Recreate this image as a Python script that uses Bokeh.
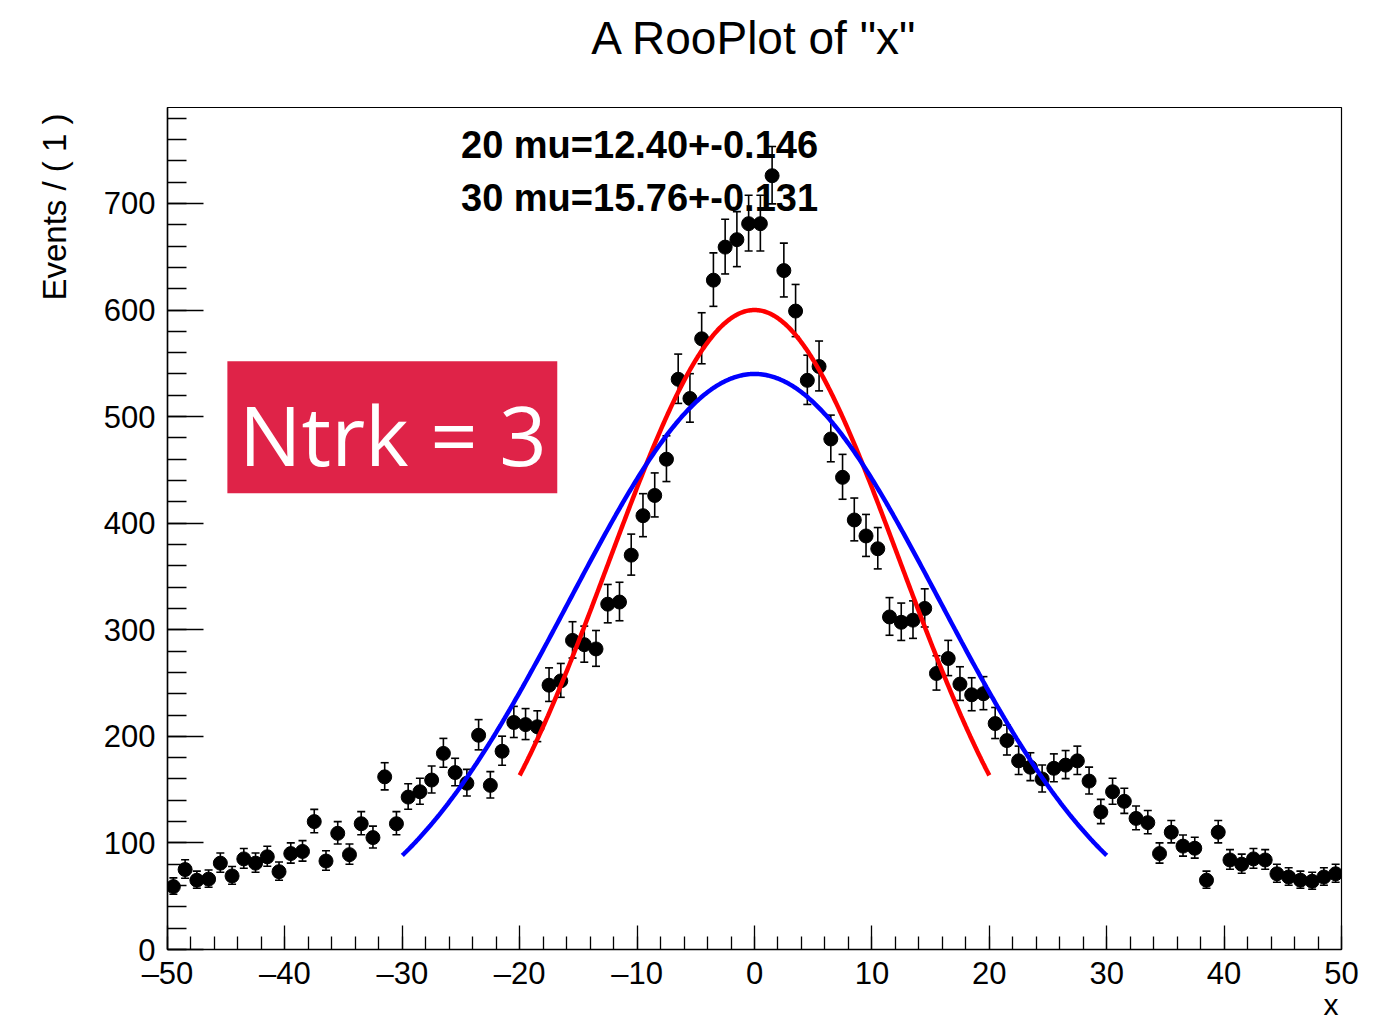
import numpy as np
from bokeh.plotting import figure
from bokeh.models import (Range1d, SingleIntervalTicker, FixedTicker, LinearAxis, Label,
                          BoxAnnotation, ColumnDataSource, Title)
from bokeh.embed import file_html
from bokeh.resources import INLINE

# ---- data ----
bin_lo, bin_hi, bin_width = -50, 50, 1
counts = [59, 75, 65, 66, 81, 69, 85, 81, 87, 73,
          90, 92, 120, 83, 109, 89, 118, 105, 162, 118,
          143, 148, 159, 184, 166, 156, 201, 154, 186, 213,
          211, 209, 248, 252, 290, 286, 282, 324, 326, 370,
          407, 426, 460, 535, 517, 573, 628, 659, 666, 681,
          681, 726, 637, 599, 534, 547, 479, 443, 403, 388,
          376, 312, 307, 309, 320, 259, 273, 249, 239, 240,
          212, 196, 177, 171, 160, 170, 173, 177, 158, 129,
          148, 139, 123, 119, 90, 110, 97, 95, 65, 110,
          84, 80, 85, 84, 71, 68, 65, 64, 68, 71]

# fit curves: (peak, sigma, half-range)
fit20_peak, fit20_sigma, fit20_range = 600.0, 12.40, 20
fit30_peak, fit30_sigma, fit30_range = 540.0, 15.76, 30

x_ticks_major = [-50, -40, -30, -20, -10, 0, 10, 20, 30, 40, 50]
title_text = 'A RooPlot of "x"'
ytitle_text = "Events / ( 1 )"
xtitle_text = "x"
note1 = "20 mu=12.40+-0.146"
note2 = "30 mu=15.76+-0.131"
box_text = "Ntrk = 3"

# ---- derived ----
N = np.array(counts, dtype=float)
xc = np.arange(bin_lo + bin_width / 2, bin_hi, bin_width)
err_lo = N - (np.sqrt(N + 0.25) - 0.5)
err_hi = N + (np.sqrt(N + 0.25) + 0.5)
src = ColumnDataSource(dict(x=xc, y=N, lo=err_lo, hi=err_hi))

def gauss_curve(peak, sigma, half):
    xs = np.linspace(-half, half, 400)
    return xs, peak * np.exp(-0.5 * (xs / sigma) ** 2)

FONT = "Liberation Sans"

p = figure(width=1380, height=1020, output_backend="svg", toolbar_location=None,
           x_range=Range1d(-50, 50), y_range=Range1d(0, 790),
           min_border_left=167, min_border_right=39, min_border_top=107, min_border_bottom=71)
p.background_fill_color = "white"
p.border_fill_color = "white"
p.outline_line_color = "black"
p.outline_line_width = 1.2
p.xgrid.visible = False
p.ygrid.visible = False

bottom_axis = p.below[0]
left_axis = p.left[0]

# title drawn as the label of an invisible top axis
top_axis = LinearAxis(ticker=FixedTicker(ticks=[]), axis_label=title_text,
                      axis_line_alpha=0, major_tick_in=0, major_tick_out=0,
                      minor_tick_in=0, minor_tick_out=0, major_label_standoff=0,
                      axis_label_standoff=44, axis_label_text_font=FONT,
                      axis_label_text_font_size="46px", axis_label_text_font_style="normal",
                      axis_label_text_color="black")
p.add_layout(top_axis, "above")

p.add_layout(Title(text=ytitle_text, align="right", offset=6, text_font=FONT,
                   text_font_size="33px", text_font_style="normal", text_color="black",
                   vertical_align="top", standoff=52), "left")
p.add_layout(Title(text=xtitle_text, align="right", offset=3, text_font=FONT,
                   text_font_size="30px", text_font_style="normal", text_color="black",
                   vertical_align="top", standoff=-12), "below")

bottom_axis.ticker = SingleIntervalTicker(interval=10, num_minor_ticks=5)
left_axis.ticker = SingleIntervalTicker(interval=100, num_minor_ticks=5)
bottom_axis.major_label_overrides = {v: str(v).replace("-", "\u2013") for v in x_ticks_major}
for ax in (bottom_axis, left_axis):
    ax.axis_line_color = "black"
    ax.axis_line_width = 1.5
    ax.major_tick_line_color = "black"
    ax.minor_tick_line_color = "black"
    ax.major_tick_line_width = 1.3
    ax.minor_tick_line_width = 1.3
    ax.major_tick_out = 0
    ax.minor_tick_out = 0
    ax.major_label_text_font = FONT
    ax.major_label_text_font_size = "31px"
    ax.major_label_text_color = "black"
bottom_axis.major_tick_in = 24
bottom_axis.minor_tick_in = 13
left_axis.major_tick_in = 36
left_axis.minor_tick_in = 19
bottom_axis.major_label_standoff = 6
left_axis.major_label_standoff = 12

# data points with error bars
p.segment(x0="x", y0="lo", x1="x", y1="hi", source=src, line_color="black", line_width=1.6)
p.scatter(x="x", y="lo", source=src, marker="dash", size=8, line_color="black", line_width=1.6)
p.scatter(x="x", y="hi", source=src, marker="dash", size=8, line_color="black", line_width=1.6)
p.scatter(x="x", y="y", source=src, marker="circle", size=14, fill_color="black", line_color="black")

# fitted curves
xr, yr = gauss_curve(fit20_peak, fit20_sigma, fit20_range)
p.line(xr, yr, line_color="#ff0000", line_width=4.5)
xb, yb = gauss_curve(fit30_peak, fit30_sigma, fit30_range)
p.line(xb, yb, line_color="#0000ff", line_width=4.5)

# annotations
p.add_layout(Label(x=-25.0, y=755, text=note1, text_font=FONT, text_font_size="38px",
                   text_font_style="bold", text_baseline="alphabetic", text_color="black"))
p.add_layout(Label(x=-25.0, y=705, text=note2, text_font=FONT, text_font_size="38px",
                   text_font_style="bold", text_baseline="alphabetic", text_color="black"))
p.add_layout(BoxAnnotation(left=-44.9, right=-16.8, bottom=428, top=552,
                           fill_color="#df2348", fill_alpha=1.0, line_alpha=0))
p.add_layout(Label(x=-30.8, y=484, text=box_text, text_font="Open Sans", text_font_size="83px",
                   text_align="center", text_baseline="alphabetic", text_color="white"))

open("out.html", "w").write(file_html(p, INLINE))
